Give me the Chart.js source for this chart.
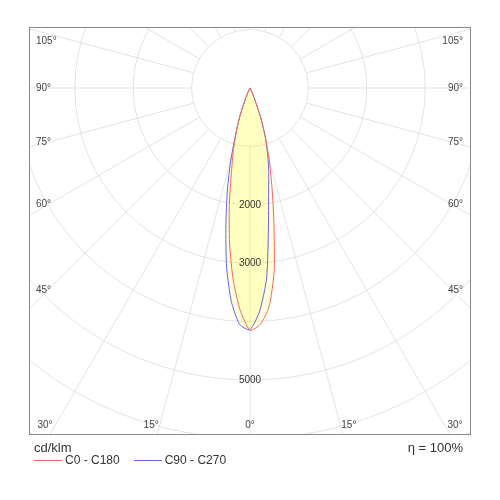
<!DOCTYPE html>
<html>
<head>
<meta charset="utf-8">
<script src="https://cdn.jsdelivr.net/npm/chart.js@4.4.1/dist/chart.umd.min.js"></script>
<style>
  body { margin: 0; background: #fff; font-family: "Liberation Sans", Arial, sans-serif; }
  #wrap { position: relative; width: 500px; height: 500px; }
  .note { position: absolute; font-size: 13px; line-height: 15px; color: #333; }
  #legend { position: absolute; left: 34px; top: 453px; display: flex; align-items: center; font-size: 12px; line-height: 14px; color: #333; }
  #legend .item { display: flex; align-items: center; margin-right: 14px; }
  #legend .swatch { width: 28px; height: 0; border-top: 1px solid; margin-right: 3px; }
</style>
</head>
<body>
<div id="wrap">
  <canvas id="chart" width="500" height="500"></canvas>
  <div class="note" style="left:34px;top:440px">cd/klm</div>
  <div class="note" style="right:37px;top:440px">η = 100%</div>
  <div id="legend"></div>
</div>
<script>
// gamma angles (deg from nadir)
const gammaDeg = [0, 2.5, 5, 7.5, 10, 12.5, 15, 17.5, 20, 22.5, 25, 27.5, 30];
// cd/klm, C0-C180 plane (right half = C0, left half = C180)
const c0Values   = [4150, 4050, 3760, 3170, 2360, 1740, 1270, 860, 520, 200, 90, 35, 10];
const c180Values = [4150, 3815, 3300, 2680, 2040, 1460, 1100, 780, 490, 200, 90, 35, 10];
// cd/klm, C90-C270 plane (right half = C90, left half = C270)
const c90Values  = [4140, 3820, 3270, 2420, 1830, 1480, 1170, 860, 520, 200, 90, 35, 10];
const c270Values = [4140, 4055, 3670, 3080, 2380, 1790, 1260, 780, 490, 200, 90, 35, 10];

const seriesNames = ["C0 - C180", "C90 - C270"];
const seriesColors = ["#ee6a5c", "#6a62e4"];
const ringLabels = [2000, 3000, 5000];
const sideAngles = [45, 60, 75, 90, 105];
const bottomAngles = [0, 15, 30];

const stepDeg = 2.5;
const labelCount = 360 / stepDeg;
const maxValue = 8000;
const pxPer1000 = 58.4;
const gridColor = "#e3e3e3";

// radar index 0 sits at the bottom, indices run clockwise -> left half first
function buildSeries(rightVals, leftVals) {
    const data = new Array(labelCount).fill(0);
    gammaDeg.forEach((g, i) => {
        const k = Math.round(g / stepDeg);
        data[k] = leftVals[i];
        data[(labelCount - k) % labelCount] = rightVals[i];
    });
    return data;
}

const labels = [];
for (let i = 0; i < labelCount; i++) labels.push((i * stepDeg) + "°");

const innerGap = pxPer1000; // angle lines start at the 1000 ring

const polarFrame = {
    id: "polarFrame",
    afterLayout(chart) {
        const r = chart.scales.r;
        const a = chart.chartArea;
        r.xCenter = (a.left + a.right) / 2;
        r.yCenter = a.top + 61;
        r.drawingArea = pxPer1000 * (r.max - r.min) / 1000;
    },
    beforeDraw(chart) {
        const { ctx, chartArea: a } = chart;
        ctx.save();
        ctx.beginPath();
        ctx.rect(a.left, a.top, a.right - a.left, a.bottom - a.top);
        ctx.clip();
    },
    afterDatasetsDraw(chart) {
        chart.ctx.restore();
    },
    afterDraw(chart) {
        const { ctx, chartArea: a } = chart;
        const r = chart.scales.r;
        ctx.save();
        ctx.strokeStyle = "#8a8a8a";
        ctx.lineWidth = 1;
        ctx.strokeRect(a.left + 0.5, a.top + 0.5, a.right - a.left - 1, a.bottom - a.top - 1);

        ctx.fillStyle = "#333";
        ctx.font = '10px "Liberation Sans", Arial, sans-serif';
        ctx.textBaseline = "middle";
        ctx.textAlign = "center";
        ringLabels.forEach(v => {
            ctx.fillText(String(v), r.xCenter, r.yCenter + r.getDistanceFromCenterForValue(v));
        });

        ctx.fillStyle = "#444";
        sideAngles.forEach(t => {
            const y = Math.max(a.top + 14, r.yCenter + 202 / Math.tan(t * Math.PI / 180));
            ctx.textAlign = "left";
            ctx.fillText(t + "°", a.left + 7, y);
            ctx.textAlign = "right";
            ctx.fillText(t + "°", a.right - 8, y);
        });
        ctx.textAlign = "center";
        bottomAngles.forEach(t => {
            const dx = Math.min(369 * Math.tan(t * Math.PI / 180), (a.right - a.left) / 2 - 16);
            ctx.fillText(t + "°", r.xCenter - dx, a.bottom - 10);
            if (t) ctx.fillText(t + "°", r.xCenter + dx, a.bottom - 10);
        });
        ctx.restore();
    }
};

const chart = new Chart(document.getElementById("chart"), {
    type: "radar",
    data: {
        labels: labels,
        datasets: [{
            label: seriesNames[0],
            data: buildSeries(c0Values, c180Values),
            borderColor: seriesColors[0],
            backgroundColor: "rgba(255,255,0,0.13)",
            fill: "origin"
        }, {
            label: seriesNames[1],
            data: buildSeries(c90Values, c270Values),
            borderColor: seriesColors[1],
            backgroundColor: "rgba(255,255,0,0.13)",
            fill: "origin"
        }]
    },
    options: {
        responsive: false,
        animation: false,
        layout: { padding: { left: 29, top: 27, right: 29, bottom: 65 } },
        elements: {
            line: { borderWidth: 1, tension: 0.2 },
            point: { radius: 0, hitRadius: 0, hoverRadius: 0 }
        },
        scales: {
            r: {
                min: 0,
                max: maxValue,
                startAngle: 180,
                ticks: { display: false, stepSize: 1000 },
                pointLabels: { display: false },
                grid: { circular: true, color: gridColor },
                angleLines: {
                    color: ctx => ctx.index % 6 === 0 ? gridColor : "rgba(0,0,0,0)",
                    borderDash: [0, innerGap, 2000, 0]
                }
            }
        },
        plugins: {
            legend: { display: false },
            tooltip: { enabled: false },
            filler: { drawTime: "beforeDatasetsDraw" }
        }
    },
    plugins: [polarFrame]
});

// legend
const legendEl = document.getElementById("legend");
seriesNames.forEach((name, i) => {
    const item = document.createElement("div");
    item.className = "item";
    const sw = document.createElement("span");
    sw.className = "swatch";
    sw.style.borderColor = seriesColors[i];
    const txt = document.createElement("span");
    txt.textContent = name;
    item.appendChild(sw);
    item.appendChild(txt);
    legendEl.appendChild(item);
});
</script>
</body>
</html>
